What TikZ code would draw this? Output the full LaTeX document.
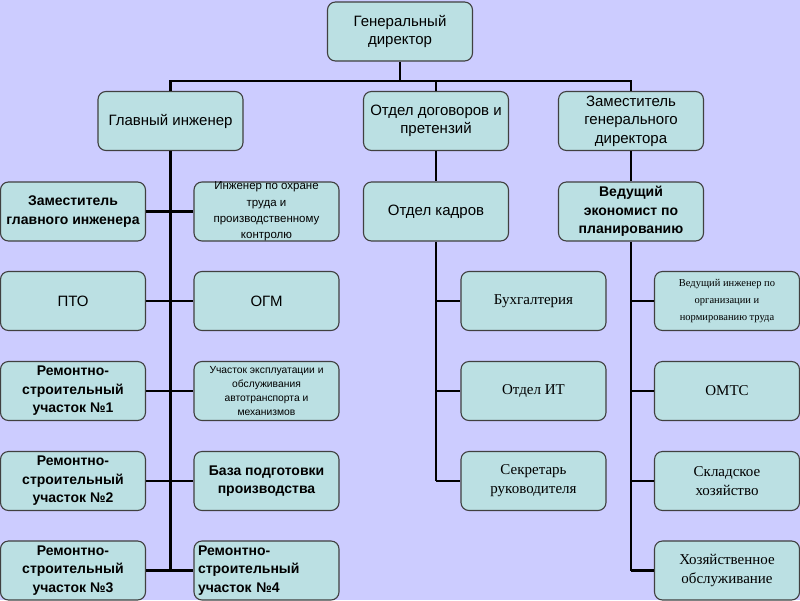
\documentclass[tikz,border=0pt]{standalone}
\usepackage{fontspec}
\setmainfont{Liberation Serif}
\setsansfont{Liberation Sans}
\usepackage{tikz}

\definecolor{fon}{RGB}{204,204,255}
\definecolor{yacheyka}{RGB}{187,224,227}
\definecolor{rama}{RGB}{64,64,64}

\tikzset{
  box/.style={draw=rama, line width=1.1pt, fill=yacheyka, rounded corners=8pt,
    minimum width=145pt, minimum height=59pt, inner sep=2pt, align=center,
    font=\sffamily\fontsize{15}{18.5}\selectfont},
  boxb/.style={box, font=\sffamily\bfseries\fontsize{14}{18.5}\selectfont},
  boxs/.style={box, font=\rmfamily\fontsize{15}{19}\selectfont},
  link/.style={line width=2.8pt, black}
}

\begin{document}
\begin{tikzpicture}[x=1pt, y=-1pt]
\fill[fon] (0,0) rectangle (800,600);
\useasboundingbox (0,0) rectangle (800,600);

% top levels
\node[box] (gd) at (400,31.5) {Генеральный\\директор};
\node[box] (gi) at (170.5,121) {Главный инженер};
\node[box] (odp) at (436,121) {Отдел договоров и\\претензий};
\node[box] (zgd) at (631,121) {Заместитель\\генерального\\директора};

% left branch
\node[boxb] (zgi) at (73,211.5) {Заместитель\\главного инженера};
\node[box, inner ysep=0pt, font=\sffamily\fontsize{11.5}{16.2}\selectfont] (iot) at (266.5,211.5)
  {Инженер по охране\\труда и\\производственному\\контролю};
\node[box] (pto) at (73,301) {ПТО};
\node[box] (ogm) at (266.5,301) {ОГМ};
\node[boxb] (rsu1) at (73,391) {Ремонтно-\\строительный\\участок №1};
\node[box, font=\sffamily\fontsize{10.3}{14}\selectfont] (uea) at (266.5,391)
  {Участок эксплуатации и\\обслуживания\\автотранспорта и\\механизмов};
\node[boxb] (rsu2) at (73,481) {Ремонтно-\\строительный\\участок №2};
\node[boxb] (bpp) at (266.5,481) {База подготовки\\производства};
\node[boxb] (rsu3) at (73,570.5) {Ремонтно-\\строительный\\участок №3};
\node[boxb, align=left, text width=137pt] (rsu4) at (266.5,570.5) {Ремонтно-\\строительный\\участок №4};

% middle branch
\node[box] (ok) at (436,211.5) {Отдел кадров};
\node[boxs] (buh) at (533.5,301) {Бухгалтерия};
\node[boxs] (oit) at (533.5,391) {Отдел ИТ};
\node[boxs] (sec) at (533.5,481) {Секретарь\\руководителя};

% right branch
\node[boxb] (vep) at (631,211.5) {Ведущий\\экономист по\\планированию};
\node[boxs, font=\rmfamily\fontsize{10.5}{17}\selectfont] (vio) at (727,301)
  {Ведущий инженер по\\организации и\\нормированию труда};
\node[boxs] (omts) at (727,391) {ОМТС};
\node[boxs] (sklad) at (727,481) {Складское\\хозяйство};
\node[boxs] (ho) at (727,570.5) {Хозяйственное\\обслуживание};

% connectors
\coordinate (bus) at (400,81);
\draw[link] (gd.south) -- (bus);
\draw[link] (gi.north) |- (bus) -| (zgd.north);
\draw[link] (odp.north) -- (odp.north |- bus);

\draw[link] (gi.south) -- (gi.south |- rsu3.east);
\foreach \l/\r in {zgi/iot, pto/ogm, rsu1/uea, rsu2/bpp, rsu3/rsu4}
  \draw[link] (\l.east) -- (\r.west);

\draw[link] (odp.south) -- (ok.north);
\draw[link] (ok.south) -- (ok.south |- sec.west);
\foreach \n in {buh, oit, sec}
  \draw[link] (ok.south |- \n.west) -- (\n.west);

\draw[link] (zgd.south) -- (vep.north);
\draw[link] (vep.south) -- (vep.south |- ho.west);
\foreach \n in {vio, omts, sklad, ho}
  \draw[link] (vep.south |- \n.west) -- (\n.west);
\end{tikzpicture}
\end{document}
